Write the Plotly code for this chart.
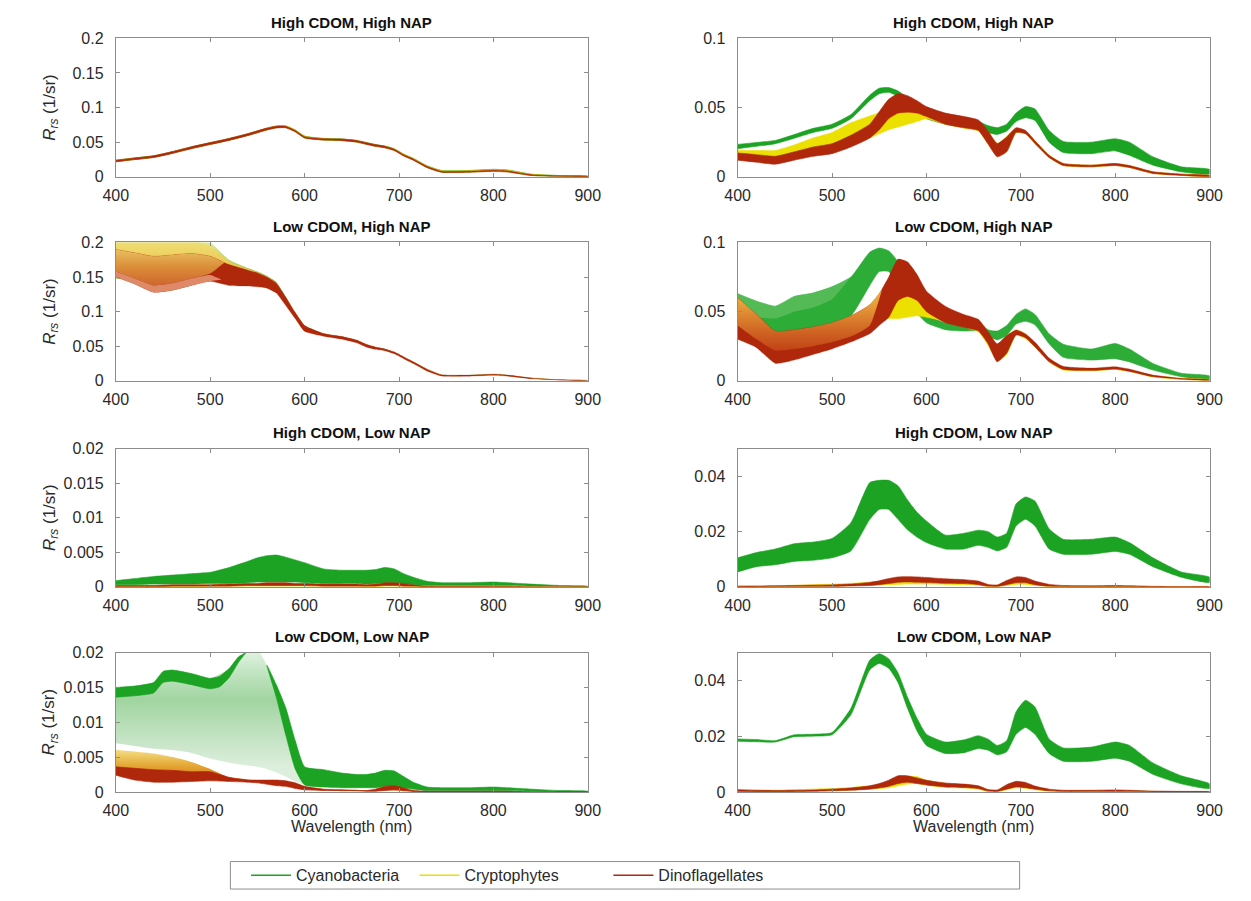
import plotly.graph_objects as go

# ---------------- data ----------------
WL = [400, 420, 440, 460, 480, 500, 520, 540, 550, 560, 570, 580, 590, 600, 620, 640,
      655, 665, 675, 685, 695, 705, 715, 730, 745, 775, 800, 815, 840, 870, 900]

XTICKS = [400, 500, 600, 700, 800, 900]
GROUPS = ["Cyanobacteria", "Cryptophytes", "Dinoflagellates"]

# Panel 1: High CDOM, High NAP (left, 0-0.2)
HH1_GREEN_HI = [.0240, .0272, .0302, .0362, .0432, .0492, .0552, .0622, .0662, .0702, .0732, .0735, .0678, .0588, .0555, .0545,
                .0525, .0495, .0465, .0445, .0405, .0328, .0268, .0158, .0092, .0092, .0108, .0098, .0038, .0018, .0010]
HH1_GREEN_LO = [.0218, .0250, .0280, .0340, .0408, .0468, .0528, .0598, .0638, .0678, .0708, .0712, .0655, .0565, .0532, .0522,
                .0502, .0472, .0442, .0422, .0382, .0305, .0245, .0135, .0070, .0070, .0085, .0075, .0020, .0008, .0003]
HH1_YELLOW_HI = [.0238, .0270, .0300, .0360, .0430, .0490, .0550, .0620, .0660, .0700, .0733, .0736, .0676, .0586, .0552, .0542,
                 .0522, .0492, .0462, .0442, .0402, .0325, .0265, .0155, .0088, .0088, .0104, .0094, .0035, .0016, .0009]
HH1_YELLOW_LO = [.0220, .0252, .0282, .0342, .0410, .0470, .0530, .0600, .0640, .0680, .0712, .0715, .0658, .0568, .0534, .0524,
                 .0504, .0474, .0444, .0424, .0384, .0308, .0248, .0138, .0072, .0072, .0086, .0076, .0022, .0008, .0003]
HH1_RED_HI = [.0240, .0272, .0304, .0364, .0434, .0494, .0554, .0624, .0664, .0704, .0732, .0730, .0670, .0580, .0550, .0545,
              .0525, .0495, .0465, .0440, .0398, .0318, .0258, .0148, .0080, .0080, .0095, .0085, .0030, .0013, .0007]
HH1_RED_LO = [.0216, .0248, .0278, .0338, .0406, .0466, .0526, .0596, .0636, .0676, .0706, .0708, .0650, .0560, .0530, .0522,
              .0502, .0470, .0440, .0418, .0378, .0300, .0240, .0130, .0065, .0065, .0078, .0068, .0018, .0006, .0002]

# Panel 2: High CDOM, High NAP (right, 0-0.1)
HH2_GREEN_HI = [.0234, .0248, .0263, .0305, .0350, .0380, .0450, .0590, .0640, .0645, .0620, .0570, .0520, .0470, .0430, .0400,
                .0400, .0370, .0355, .0380, .0460, .0507, .0490, .0335, .0255, .0250, .0275, .0250, .0144, .0072, .0053]
HH2_GREEN_LO = [.0203, .0220, .0239, .0278, .0320, .0350, .0420, .0550, .0600, .0610, .0580, .0520, .0460, .0420, .0380, .0360,
                .0360, .0320, .0306, .0330, .0400, .0426, .0407, .0250, .0175, .0167, .0187, .0155, .0084, .0036, .0020]
HH2_YELLOW_HI = [.0190, .0190, .0190, .0230, .0280, .0320, .0390, .0440, .0460, .0470, .0480, .0480, .0480, .0480, .0450, .0430,
                 .0400, .0330, .0240, .0290, .0350, .0330, .0260, .0155, .0096, .0084, .0096, .0081, .0036, .0019, .0010]
HH2_YELLOW_LO = [.0130, .0120, .0110, .0130, .0160, .0190, .0230, .0280, .0310, .0340, .0360, .0380, .0400, .0420, .0380, .0350,
                 .0330, .0240, .0150, .0180, .0320, .0310, .0240, .0139, .0081, .0072, .0081, .0067, .0024, .0010, .0002]
HH2_RED_HI = [.0172, .0160, .0148, .0180, .0215, .0239, .0300, .0380, .0470, .0560, .0600, .0586, .0550, .0507, .0460, .0435,
              .0410, .0335, .0240, .0287, .0354, .0335, .0260, .0155, .0096, .0084, .0096, .0081, .0036, .0019, .0010]
HH2_RED_LO = [.0120, .0105, .0091, .0120, .0148, .0167, .0215, .0280, .0340, .0420, .0460, .0467, .0460, .0435, .0380, .0354,
              .0335, .0240, .0144, .0180, .0320, .0310, .0240, .0139, .0081, .0072, .0081, .0067, .0024, .0010, .0002]

# Panel 3: Low CDOM, High NAP (left, 0-0.2)
LH1_GREEN_HI = [.2150, .2150, .2150, .2150, .2120, .2000, .1750, .1630, .1580, .1520, .1430, .1220, .0990, .0800, .0685, .0640,
                .0590, .0530, .0490, .0465, .0420, .0350, .0280, .0170, .0090, .0085, .0098, .0085, .0045, .0018, .0008]
LH1_GREEN_LO = [.1480, .1460, .1490, .1520, .1540, .1560, .1520, .1470, .1440, .1400, .1330, .1140, .0920, .0730, .0655, .0610,
                .0560, .0500, .0465, .0445, .0400, .0330, .0260, .0150, .0075, .0072, .0085, .0072, .0035, .0012, .0004]
LH1_YELLOW_HI = [.2050, .2050, .2050, .2050, .2030, .1950, .1720, .1620, .1570, .1510, .1420, .1200, .0980, .0790, .0680, .0635,
                 .0585, .0525, .0485, .0460, .0415, .0345, .0275, .0165, .0088, .0083, .0095, .0083, .0043, .0017, .0007]
LH1_YELLOW_LO = [.1550, .1500, .1450, .1480, .1520, .1550, .1480, .1450, .1430, .1390, .1320, .1120, .0910, .0720, .0650, .0605,
                 .0555, .0495, .0460, .0440, .0395, .0325, .0255, .0145, .0073, .0070, .0082, .0070, .0033, .0011, .0004]
LH1_RED_HI = [.1900, .1850, .1800, .1820, .1840, .1800, .1680, .1600, .1560, .1500, .1410, .1210, .0990, .0800, .0685, .0640,
              .0590, .0530, .0490, .0460, .0415, .0345, .0275, .0165, .0088, .0083, .0096, .0084, .0042, .0016, .0007]
LH1_RED_LO = [.1500, .1400, .1280, .1310, .1380, .1440, .1380, .1370, .1360, .1340, .1270, .1090, .0900, .0715, .0645, .0600,
              .0550, .0490, .0455, .0435, .0390, .0320, .0250, .0140, .0070, .0068, .0080, .0068, .0030, .0010, .0003]
# lighter (upper) and salmon (lower) curves of the Dinoflagellate fan
WL_LH1_FAN_UP = [400, 420, 440, 460, 480, 500, 515]
LH1_FAN_UP_HI = [.1900, .1850, .1800, .1820, .1840, .1800, .1710]
LH1_FAN_UP_LO = [.1580, .1480, .1380, .1410, .1480, .1550, .1710]
WL_LH1_FAN_DN = [400, 420, 440, 460, 480, 500, 512]
LH1_FAN_DN_HI = [.1580, .1480, .1380, .1410, .1480, .1530, .1460]
LH1_FAN_DN_LO = [.1500, .1400, .1280, .1310, .1380, .1440, .1460]

# Panel 4: Low CDOM, High NAP (right, 0-0.1)
LH2_GREEN_HI = [.0630, .0576, .0540, .0610, .0635, .0680, .0750, .0930, .0960, .0940, .0860, .0690, .0576, .0480, .0420, .0415,
                .0420, .0370, .0360, .0400, .0480, .0520, .0480, .0340, .0265, .0230, .0270, .0230, .0126, .0055, .0036]
LH2_GREEN_LO = [.0400, .0360, .0340, .0360, .0380, .0420, .0470, .0690, .0790, .0790, .0690, .0588, .0490, .0420, .0370, .0360,
                .0360, .0327, .0296, .0327, .0410, .0430, .0405, .0268, .0170, .0150, .0160, .0137, .0078, .0030, .0012]
WL_LH2_GFAN = [400, 420, 440, 460, 480, 500, 520]
LH2_GFAN_HI = [.0630, .0576, .0540, .0610, .0635, .0680, .0750]
LH2_GFAN_LO = [.0480, .0460, .0450, .0500, .0530, .0590, .0750]
LH2_YELLOW_HI = [.0560, .0450, .0340, .0350, .0370, .0400, .0450, .0530, .0600, .0640, .0650, .0640, .0630, .0600, .0530, .0470,
                 .0440, .0350, .0260, .0320, .0370, .0340, .0270, .0160, .0098, .0088, .0098, .0078, .0039, .0018, .0009]
LH2_YELLOW_LO = [.0350, .0280, .0180, .0200, .0240, .0280, .0330, .0400, .0440, .0450, .0450, .0460, .0470, .0460, .0430, .0390,
                 .0355, .0260, .0145, .0190, .0330, .0305, .0245, .0135, .0078, .0072, .0082, .0068, .0028, .0011, .0003]
LH2_RED_HI = [.0600, .0480, .0360, .0370, .0390, .0420, .0470, .0550, .0630, .0750, .0880, .0860, .0770, .0650, .0540, .0480,
              .0445, .0360, .0268, .0327, .0367, .0339, .0280, .0165, .0105, .0092, .0102, .0085, .0042, .0018, .0008]
LH2_RED_LO = [.0300, .0240, .0126, .0150, .0190, .0230, .0280, .0340, .0400, .0457, .0580, .0610, .0580, .0500, .0420, .0386,
              .0360, .0270, .0137, .0197, .0330, .0310, .0245, .0138, .0082, .0074, .0084, .0068, .0029, .0011, .0003]
WL_LH2_RFAN = [400, 420, 440, 460, 480, 500, 520, 540, 553]
LH2_RFAN_HI = [.0600, .0480, .0360, .0370, .0390, .0420, .0470, .0550, .0660]
LH2_RFAN_LO = [.0400, .0300, .0220, .0230, .0250, .0280, .0320, .0400, .0660]

# Panel 5: High CDOM, Low NAP (left, 0-0.02)
HL1_GREEN_HI = [.0009, .0012, .0015, .0017, .0019, .0021, .0028, .0037, .0042, .0045, .0046, .0043, .0039, .0035, .0026, .0024,
                .0024, .0024, .0025, .0028, .0026, .0019, .0014, .0008, .0006, .0006, .0007, .0006, .0004, .0002, .0001]
HL1_GREEN_LO = [.0003, .0003, .0004, .0004, .0004, .0005, .0005, .0006, .0007, .0007, .0007, .0007, .0007, .0006, .0005, .0005,
                .0005, .0004, .0005, .0006, .0006, .0005, .0003, .0002, .0002, .0002, .0002, .0002, .0001, .0001, .0000]
HL1_YELLOW_HI = [.0002, .0002, .0002, .0002, .0002, .0003, .0003, .0004, .0004, .0005, .0005, .0005, .0004, .0004, .0003, .0003,
                 .0003, .0002, .0003, .0004, .0004, .0003, .0002, .0001, .0001, .0001, .0001, .0001, .0000, .0000, .0000]
HL1_YELLOW_LO = [.0000, .0000, .0000, .0000, .0000, .0001, .0001, .0001, .0001, .0001, .0001, .0001, .0001, .0001, .0001, .0001,
                 .0001, .0000, .0000, .0001, .0001, .0001, .0000, .0000, .0000, .0000, .0000, .0000, .0000, .0000, .0000]
HL1_RED_HI = [.0002, .0002, .0002, .0003, .0003, .0003, .0004, .0005, .0005, .0006, .0006, .0006, .0005, .0005, .0004, .0004,
              .0004, .0003, .0004, .0006, .0006, .0005, .0003, .0001, .0001, .0001, .0001, .0001, .0000, .0000, .0000]
HL1_RED_LO = [.0000, .0000, .0000, .0001, .0001, .0001, .0001, .0002, .0002, .0002, .0002, .0002, .0002, .0002, .0001, .0001,
              .0001, .0001, .0001, .0002, .0002, .0001, .0001, .0000, .0000, .0000, .0000, .0000, .0000, .0000, .0000]

# Panel 6: High CDOM, Low NAP (right, 0-0.05)
HL2_GREEN_HI = [.0105, .0124, .0137, .0156, .0162, .0175, .0232, .0377, .0385, .0385, .0365, .0314, .0270, .0238, .0187, .0194,
                .0205, .0200, .0180, .0194, .0300, .0325, .0310, .0210, .0172, .0172, .0180, .0160, .0105, .0054, .0035]
HL2_GREEN_LO = [.0054, .0073, .0080, .0092, .0096, .0105, .0130, .0244, .0280, .0280, .0244, .0206, .0180, .0160, .0137, .0137,
                .0150, .0143, .0130, .0143, .0220, .0244, .0220, .0137, .0118, .0118, .0128, .0118, .0073, .0035, .0016]
HL2_YELLOW_HI = [.0002, .0003, .0004, .0006, .0008, .0010, .0013, .0017, .0020, .0023, .0025, .0026, .0026, .0025, .0022, .0020,
                 .0016, .0006, .0004, .0016, .0025, .0024, .0015, .0006, .0003, .0003, .0003, .0003, .0001, .0001, .0000]
HL2_YELLOW_LO = [.0000, .0000, .0001, .0001, .0002, .0003, .0004, .0006, .0007, .0008, .0009, .0010, .0010, .0010, .0009, .0008,
                 .0006, .0001, .0001, .0005, .0009, .0009, .0005, .0001, .0000, .0000, .0000, .0000, .0000, .0000, .0000]
HL2_RED_HI = [.0003, .0003, .0004, .0005, .0006, .0007, .0010, .0016, .0022, .0030, .0036, .0037, .0036, .0034, .0029, .0026,
              .0021, .0009, .0007, .0023, .0036, .0034, .0021, .0009, .0005, .0004, .0005, .0004, .0002, .0001, .0001]
HL2_RED_LO = [.0000, .0000, .0001, .0001, .0001, .0001, .0003, .0005, .0008, .0012, .0017, .0018, .0017, .0016, .0013, .0012,
              .0008, .0002, .0001, .0008, .0015, .0015, .0008, .0002, .0001, .0001, .0001, .0001, .0000, .0000, .0000]

# Panel 7: Low CDOM, Low NAP (left, 0-0.02)
LL1_GREEN_HI = [.0150, .0152, .0157, .0175, .0170, .0163, .0177, .0205, .0205, .0182, .0154, .0121, .0074, .0036, .0032, .0027,
                .0025, .0025, .0027, .0031, .0030, .0022, .0014, .0007, .0006, .0006, .0007, .0006, .0004, .0002, .0001]
LL1_GREEN_LO = [.0070, .0066, .0062, .0060, .0056, .0048, .0042, .0038, .0036, .0033, .0028, .0022, .0015, .0010, .0007, .0006,
                .0006, .0006, .0006, .0008, .0008, .0006, .0004, .0002, .0002, .0002, .0002, .0002, .0001, .0000, .0000]
WL_LL1_TOP = [400, 420, 440, 450, 460, 480, 500, 510, 520, 530, 538]
LL1_TOP_HI = [.0150, .0152, .0157, .0173, .0175, .0170, .0163, .0166, .0177, .0194, .0200]
LL1_TOP_LO = [.0136, .0138, .0142, .0157, .0159, .0154, .0148, .0151, .0164, .0186, .0200]
WL_LL1_DROP = [560, 570, 580, 590, 600, 620, 640, 655, 665, 675, 685, 695, 705, 715, 730, 745, 775, 800, 815, 840, 870, 900]
LL1_DROP_HI = [.0182, .0154, .0121, .0074, .0036, .0032, .0027, .0025, .0025, .0027, .0031, .0030, .0022, .0014, .0007, .0006,
               .0006, .0007, .0006, .0004, .0002, .0001]
LL1_DROP_LO = [.0182, .0136, .0082, .0033, .0010, .0007, .0006, .0006, .0006, .0006, .0008, .0008, .0006, .0004, .0002, .0002,
               .0002, .0002, .0002, .0001, .0000, .0000]
LL1_YELLOW_HI = [.0060, .0058, .0055, .0050, .0043, .0033, .0021, .0018, .0017, .0016, .0015, .0014, .0011, .0007, .0004, .0003,
                 .0003, .0002, .0003, .0006, .0006, .0004, .0002, .0001, .0001, .0001, .0001, .0001, .0000, .0000, .0000]
LL1_YELLOW_LO = [.0032, .0028, .0026, .0025, .0024, .0021, .0017, .0015, .0014, .0012, .0011, .0010, .0008, .0004, .0002, .0001,
                 .0001, .0001, .0001, .0002, .0002, .0001, .0000, .0000, .0000, .0000, .0000, .0000, .0000, .0000, .0000]
LL1_RED_HI = [.0036, .0034, .0032, .0031, .0029, .0029, .0021, .0017, .0017, .0017, .0017, .0016, .0013, .0008, .0004, .0003,
              .0002, .0002, .0004, .0008, .0009, .0006, .0002, .0001, .0001, .0001, .0001, .0001, .0000, .0000, .0000]
LL1_RED_LO = [.0024, .0017, .0014, .0014, .0015, .0016, .0015, .0014, .0013, .0011, .0009, .0008, .0005, .0003, .0002, .0002,
              .0002, .0001, .0001, .0002, .0003, .0002, .0001, .0000, .0000, .0000, .0000, .0000, .0000, .0000, .0000]

# Panel 8: Low CDOM, Low NAP (right, 0-0.05)
LL2_GREEN_HI = [.0190, .0188, .0184, .0205, .0207, .0213, .0300, .0473, .0496, .0478, .0427, .0340, .0265, .0207, .0179, .0187,
                .0202, .0190, .0167, .0184, .0288, .0329, .0305, .0190, .0158, .0161, .0179, .0167, .0104, .0058, .0029]
LL2_GREEN_LO = [.0182, .0180, .0179, .0198, .0200, .0205, .0277, .0438, .0461, .0444, .0392, .0300, .0219, .0167, .0138, .0141,
                .0156, .0150, .0133, .0144, .0207, .0231, .0207, .0138, .0110, .0110, .0121, .0110, .0063, .0029, .0012]
LL2_YELLOW_HI = [.0008, .0007, .0007, .0008, .0010, .0012, .0016, .0022, .0026, .0032, .0045, .0055, .0055, .0042, .0030, .0026,
                 .0020, .0008, .0006, .0022, .0032, .0029, .0018, .0008, .0005, .0005, .0006, .0005, .0002, .0001, .0000]
LL2_YELLOW_LO = [.0002, .0002, .0002, .0003, .0004, .0005, .0007, .0010, .0012, .0015, .0022, .0028, .0030, .0024, .0016, .0014,
                 .0010, .0002, .0001, .0008, .0015, .0013, .0008, .0003, .0001, .0001, .0001, .0001, .0000, .0000, .0000]
LL2_RED_HI = [.0008, .0006, .0005, .0006, .0007, .0010, .0014, .0022, .0030, .0042, .0058, .0058, .0050, .0042, .0032, .0028,
              .0022, .0009, .0007, .0026, .0038, .0034, .0021, .0010, .0006, .0006, .0007, .0006, .0003, .0002, .0001]
LL2_RED_LO = [.0002, .0001, .0001, .0001, .0002, .0004, .0006, .0010, .0014, .0020, .0030, .0035, .0030, .0025, .0018, .0016,
              .0012, .0003, .0002, .0010, .0018, .0015, .0010, .0004, .0002, .0002, .0002, .0002, .0001, .0000, .0000]

# ---------------- styling ----------------
W, H = 1251, 901
GREEN = "rgb(28,163,36)"
YELLOW = "rgb(236,224,0)"
RED = "rgb(176,40,12)"
FONT = "Liberation Sans, Arial, Helvetica, sans-serif"
AXIS_GREY = "#8c8c8c"
TEXT = "#2a2a2a"


def px(x):
    return x / W


def py(y):
    return 1 - y / H


XDOM = {1: [px(105), px(587)], 2: [px(740), px(1222)]}
ROWPX = {1: (31, 172), 2: (239, 380), 3: (449, 590), 4: (657, 799)}

PANELS = [
    # n, row, col, title, ymax, yticks, yticktext
    (1, 1, 1, "High CDOM, High NAP", 0.2, [0, .05, .1, .15, .2], ["0", "0.05", "0.1", "0.15", "0.2"]),
    (2, 1, 2, "High CDOM, High NAP", 0.1, [0, .05, .1], ["0", "0.05", "0.1"]),
    (3, 2, 1, "Low CDOM, High NAP", 0.2, [0, .05, .1, .15, .2], ["0", "0.05", "0.1", "0.15", "0.2"]),
    (4, 2, 2, "Low CDOM, High NAP", 0.1, [0, .05, .1], ["0", "0.05", "0.1"]),
    (5, 3, 1, "High CDOM, Low NAP", 0.02, [0, .005, .01, .015, .02], ["0", "0.005", "0.01", "0.015", "0.02"]),
    (6, 3, 2, "High CDOM, Low NAP", 0.05, [0, .02, .04], ["0", "0.02", "0.04"]),
    (7, 4, 1, "Low CDOM, Low NAP", 0.02, [0, .005, .01, .015, .02], ["0", "0.005", "0.01", "0.015", "0.02"]),
    (8, 4, 2, "Low CDOM, Low NAP", 0.05, [0, .02, .04], ["0", "0.02", "0.04"]),
]

fig = go.Figure()


def ax(n):
    return ("x" if n == 1 else f"x{n}"), ("y" if n == 1 else f"y{n}")


def band(n, wl, hi, lo, color, grad=None, width=0.6):
    xa, ya = ax(n)
    kw = {}
    if grad is not None:
        kw["fillgradient"] = dict(type="vertical", start=grad[0], stop=grad[1], colorscale=grad[2])
        width = 0
    fig.add_trace(go.Scatter(
        x=list(wl) + list(wl)[::-1], y=list(hi) + list(lo)[::-1],
        mode="lines", fill="toself", fillcolor=color,
        line=dict(color=color, width=width, shape="spline", smoothing=0.5),
        hoverinfo="skip", showlegend=False, xaxis=xa, yaxis=ya, **kw))


# Panel 1
band(1, WL, HH1_GREEN_HI, HH1_GREEN_LO, GREEN)
band(1, WL, HH1_YELLOW_HI, HH1_YELLOW_LO, YELLOW)
band(1, WL, HH1_RED_HI, HH1_RED_LO, RED)
# Panel 2
band(2, WL, HH2_GREEN_HI, HH2_GREEN_LO, GREEN)
band(2, WL, HH2_YELLOW_HI, HH2_YELLOW_LO, YELLOW)
band(2, WL, HH2_RED_HI, HH2_RED_LO, RED)
# Panel 3 (fans)
band(3, WL, LH1_GREEN_HI, LH1_GREEN_LO, GREEN,
     grad=(0.145, 0.205, [[0, "rgb(120,185,70)"], [0.5, "rgb(190,215,110)"], [1, "rgb(228,234,160)"]]))
band(3, WL, LH1_YELLOW_HI, LH1_YELLOW_LO, YELLOW,
     grad=(0.145, 0.205, [[0, "rgb(232,185,60)"], [1, "rgb(240,225,120)"]]))
band(3, WL, LH1_RED_HI, LH1_RED_LO, RED, width=0.3)
band(3, WL_LH1_FAN_UP, LH1_FAN_UP_HI, LH1_FAN_UP_LO, "rgb(215,130,45)",
     grad=(0.14, 0.19, [[0, "rgba(210,110,50,0.9)"], [0.5, "rgba(222,150,60,0.92)"], [1, "rgba(236,200,100,0.95)"]]))
band(3, WL_LH1_FAN_DN, LH1_FAN_DN_HI, LH1_FAN_DN_LO, "rgba(226,145,112,0.92)", width=0)
# Panel 4 (fans)
band(4, WL, LH2_GREEN_HI, LH2_GREEN_LO, "rgb(45,172,55)")
band(4, WL_LH2_GFAN, LH2_GFAN_HI, LH2_GFAN_LO, "rgba(140,208,130,0.4)", width=0)
band(4, WL, LH2_YELLOW_HI, LH2_YELLOW_LO, YELLOW)
band(4, WL, LH2_RED_HI, LH2_RED_LO, RED, width=0.3)
band(4, WL_LH2_RFAN, LH2_RFAN_HI, LH2_RFAN_LO, "rgb(220,140,50)",
     grad=(0.022, 0.058, [[0, "rgba(198,72,25,0.75)"], [1, "rgba(236,172,62,0.95)"]]))
# Panel 5
band(5, WL, HL1_GREEN_HI, HL1_GREEN_LO, GREEN)
band(5, WL, HL1_YELLOW_HI, HL1_YELLOW_LO, YELLOW)
band(5, WL, HL1_RED_HI, HL1_RED_LO, RED)
# Panel 6
band(6, WL, HL2_GREEN_HI, HL2_GREEN_LO, GREEN)
band(6, WL, HL2_YELLOW_HI, HL2_YELLOW_LO, YELLOW)
band(6, WL, HL2_RED_HI, HL2_RED_LO, RED)
# Panel 7 (green fan of thin lines)
band(7, WL, LL1_GREEN_HI, LL1_GREEN_LO, "rgba(60,170,60,0.3)",
     grad=(0.004, 0.021, [[0, "rgba(60,160,60,0.18)"], [0.55, "rgba(45,160,45,0.45)"], [0.8, "rgba(60,170,60,0.3)"],
                          [1, "rgba(80,180,80,0.12)"]]))
band(7, WL_LL1_TOP, LL1_TOP_HI, LL1_TOP_LO, GREEN)
band(7, WL_LL1_DROP, LL1_DROP_HI, LL1_DROP_LO, GREEN)
band(7, WL, LL1_YELLOW_HI, LL1_YELLOW_LO, YELLOW,
     grad=(0.002, 0.006, [[0, "rgb(215,120,30)"], [0.5, "rgb(228,165,50)"], [1, "rgb(240,215,120)"]]))
band(7, WL, LL1_RED_HI, LL1_RED_LO, RED)
# Panel 8
band(8, WL, LL2_GREEN_HI, LL2_GREEN_LO, GREEN)
band(8, WL, LL2_YELLOW_HI, LL2_YELLOW_LO, YELLOW)
band(8, WL, LL2_RED_HI, LL2_RED_LO, RED)

# legend-only traces (one legend each so they can be spaced like the original)
for name, col, lg in zip(GROUPS, [GREEN, YELLOW, RED], ["legend", "legend2", "legend3"]):
    fig.add_trace(go.Scatter(x=[None], y=[None], mode="lines", name=name,
                             line=dict(color=col, width=1.6), legend=lg, showlegend=True))

layout = dict(width=W, height=H, margin=dict(l=0, r=0, t=0, b=0),
              paper_bgcolor="white", plot_bgcolor="white", font=dict(family=FONT, color=TEXT))
annotations = []
for n, row, col, title, ymax, yt, ytt in PANELS:
    top, bot = ROWPX[row]
    sfx = "" if n == 1 else str(n)
    layout["xaxis" + sfx] = dict(
        domain=XDOM[col], range=[400, 900], tickvals=XTICKS, ticktext=[str(v) for v in XTICKS],
        ticks="inside", ticklen=4, tickcolor=AXIS_GREY, showline=True, linecolor=AXIS_GREY, linewidth=1,
        mirror="ticks", showgrid=False, zeroline=False, anchor="y" + sfx,
        tickfont=dict(family=FONT, size=16, color=TEXT), ticklabelstandoff=4)
    layout["yaxis" + sfx] = dict(
        domain=[py(bot), py(top)], range=[0, ymax], tickvals=yt, ticktext=ytt,
        ticks="inside", ticklen=4, tickcolor=AXIS_GREY, showline=True, linecolor=AXIS_GREY, linewidth=1,
        mirror="ticks", showgrid=False, zeroline=False, anchor="x" + sfx,
        tickfont=dict(family=FONT, size=16, color=TEXT), ticklabelstandoff=8)
    xc = (XDOM[col][0] + XDOM[col][1]) / 2
    annotations.append(dict(text="<b>" + title + "</b>", x=xc, y=py(top - 16), xref="paper", yref="paper",
                            xanchor="center", yanchor="middle", showarrow=False,
                            font=dict(family=FONT, size=15, color="#111")))
    if col == 1:
        annotations.append(dict(text="<i>R</i><sub><i>rs</i></sub> (1/sr)", x=px(38), y=py((top + bot) / 2),
                                xref="paper", yref="paper", xanchor="center", yanchor="middle", textangle=-90,
                                showarrow=False, font=dict(family=FONT, size=17, color=TEXT)))
    if row == 4:
        annotations.append(dict(text="Wavelength (nm)", x=xc, y=py(834), xref="paper", yref="paper",
                                xanchor="center", yanchor="middle", showarrow=False,
                                font=dict(family=FONT, size=16, color=TEXT)))
layout["annotations"] = annotations

legend_common = dict(orientation="h", xanchor="left", yanchor="middle", y=py(884),
                     bgcolor="rgba(0,0,0,0)", borderwidth=0, itemwidth=40,
                     font=dict(family=FONT, size=16, color=TEXT))
layout["legend"] = dict(x=px(238), **legend_common)
layout["legend2"] = dict(x=px(410), **legend_common)
layout["legend3"] = dict(x=px(608), **legend_common)
layout["shapes"] = [dict(type="rect", xref="paper", yref="paper", x0=px(222), x1=px(1028),
                         y0=py(898), y1=py(870), line=dict(color="#8c8c8c", width=1))]

fig.update_layout(**layout)
fig.write_html("out.html")
